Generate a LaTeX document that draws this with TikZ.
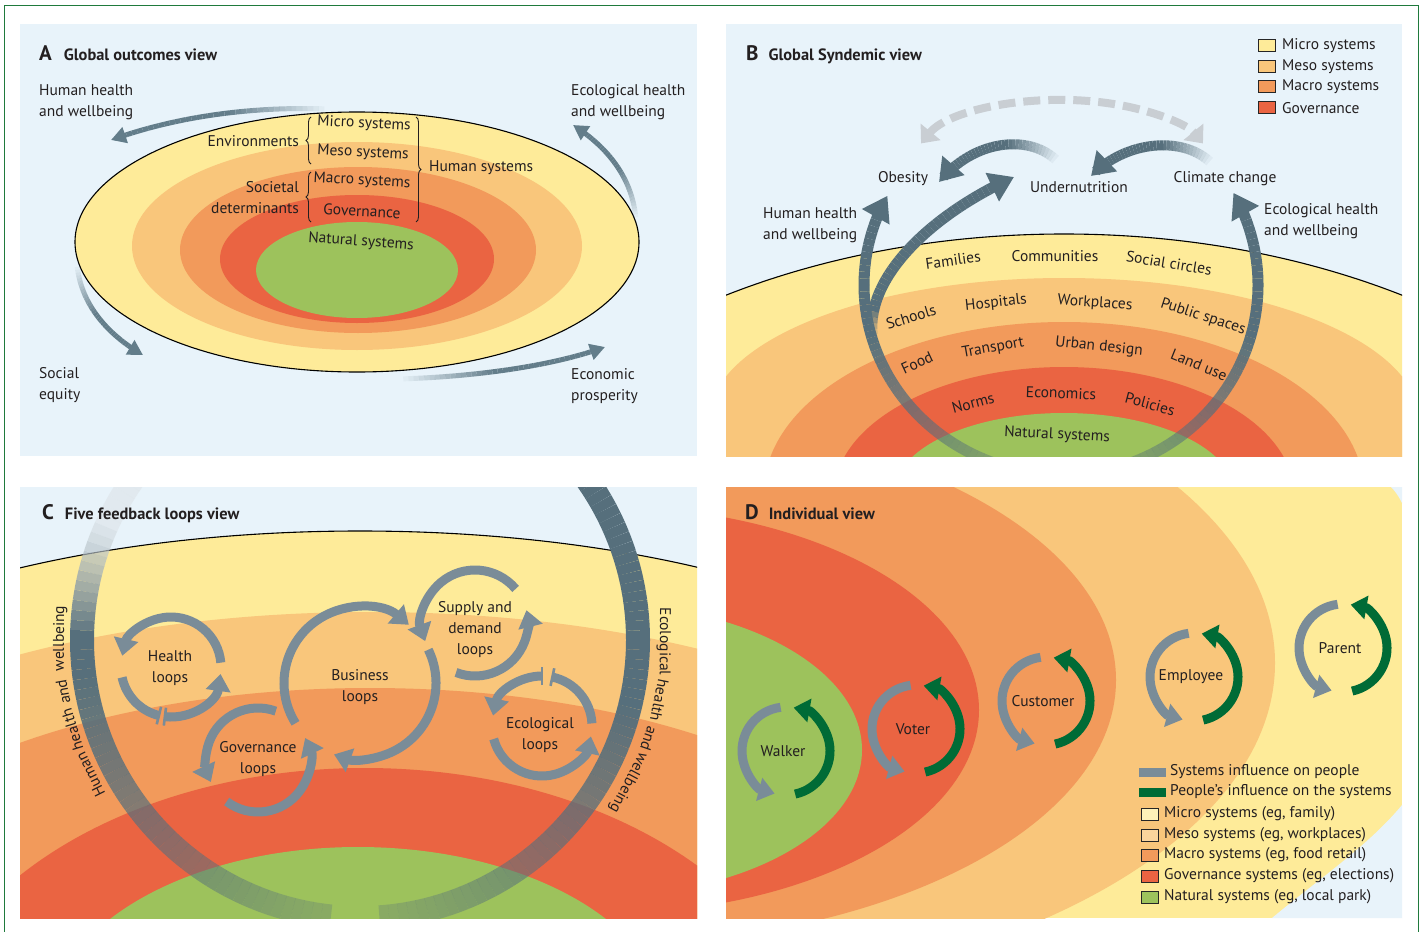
\documentclass[tikz,border=0pt]{standalone}
\usepackage{fontspec}
\setmainfont{PT Sans}
\usetikzlibrary{arrows.meta,decorations.pathreplacing,decorations.markings}
\definecolor{bgblue}{HTML}{E8F3FA}
\definecolor{micro}{HTML}{FEEB99}
\definecolor{meso}{HTML}{F9C67B}
\definecolor{macro}{HTML}{F29A5B}
\definecolor{gov}{HTML}{EA6442}
\definecolor{natural}{HTML}{9DC25C}
\definecolor{bandcol}{HTML}{566F7C}
\definecolor{bandlight}{HTML}{DCE2E6}
\definecolor{loopcol}{HTML}{7A8C98}
\definecolor{acol}{HTML}{637D8A}
\definecolor{dgreen}{HTML}{006B36}
\definecolor{framegreen}{HTML}{1F7A3C}
\definecolor{dashgray}{HTML}{C9CED3}
\definecolor{txt}{HTML}{231F20}
% faded Bezier: #1 start #2 c1 #3 c2 #4 end #5 line style #6 arrow #7 fade length (segments)
\newcommand\fadebezier[7]{%
  \path[decorate,decoration={markings,mark=between positions 0 and 1 step 0.025 with {\coordinate (fq\pgfkeysvalueof{/pgf/decoration/mark info/sequence number});}}] #1 .. controls #2 and #3 .. #4;
  \foreach \i in {1,...,38}{%
    \pgfmathsetmacro\fbop{min(1,(\i-1)/#7)}%
    \pgfmathtruncatemacro\fbj{\i+1}%
    \draw[#5,draw opacity=\fbop] (fq\i) -- (fq\fbj);}%
  \draw[#5,#6] (fq39) -- #4;%
}
\begin{document}
\begin{tikzpicture}[x=1pt,y=-1pt,
  every node/.style={inner sep=0pt,text=txt,font=\fontsize{15.5}{21}\selectfont},
  lbl/.style={align=left},
  ttl/.style={anchor=base west,font=\fontsize{16.4}{18}\selectfont\bfseries},
  lp/.style={line width=9pt,draw=loopcol},
  lph/.style={lp,-{Triangle[length=17pt,width=24pt]}},
  lbar/.style={line width=2.6pt,draw=loopcol},
  dg/.style={line width=9pt,draw=loopcol,-{Triangle[length=16pt,width=23pt]}},
  dgr/.style={line width=9pt,draw=dgreen,-{Triangle[length=16pt,width=23pt]}},
  legsq/.style={draw=black!85,line width=0.9pt,minimum width=17pt,minimum height=12pt},
  brc/.style={decorate,decoration={brace,amplitude=5pt},line width=0.9pt,draw=txt}
]
\useasboundingbox (0,0) rectangle (1423,931);
\fill[white] (0,0) rectangle (1423,931);
\draw[framegreen,line width=1.3pt] (4.5,940) -- (4.5,5.5) -- (1418.5,5.5) -- (1418.5,940);

%================ PANEL A =================
\begin{scope}
  \clip (20,24) rectangle (697,456);
  \fill[bgblue] (20,24) rectangle (697,456);
  \filldraw[fill=micro,draw=black,line width=1.1pt] (357,242) ellipse [x radius=282,y radius=130];
  \fill[meso] (357,246) ellipse [x radius=225,y radius=104];
  \fill[macro] (358,250) ellipse [x radius=178,y radius=83];
  \fill[gov] (357,259) ellipse [x radius=137,y radius=64];
  \fill[natural] (357,270) ellipse [x radius=101,y radius=48];
  \fadebezier{(330,109)}{(250,106)}{(175,117)}{(111,140)}{line width=5pt,draw=acol}{-{Triangle[length=15pt,width=16pt]}}{18}
  \fadebezier{(636,220)}{(633,182)}{(612,150)}{(573,125)}{line width=5pt,draw=acol}{-{Triangle[length=15pt,width=16pt]}}{18}
  \fadebezier{(77,264)}{(80,300)}{(103,332)}{(143,355)}{line width=5pt,draw=acol}{-{Triangle[length=15pt,width=16pt]}}{18}
  \fadebezier{(398,379)}{(470,377)}{(550,367)}{(605,347)}{line width=5pt,draw=acol}{-{Triangle[length=15pt,width=16pt]}}{18}
\end{scope}
\node[ttl] (a-title) at (39,61) {{\fontsize{21}{21}\selectfont A}\hspace{12pt}Global outcomes view};
\node[lbl,anchor=west] (a-hh) at (39,102) {Human health\\and wellbeing};
\node[lbl,anchor=west] (a-eh) at (571,102) {Ecological health\\and wellbeing};
\node[lbl,anchor=west] (a-se) at (39,385) {Social\\equity};
\node[lbl,anchor=west] (a-ep) at (571,386) {Economic\\prosperity};
\node[rotate=-3] (a-micro) at (364,124) {Micro systems};
\node[rotate=-3] (a-meso) at (363,153) {Meso systems};
\node[rotate=-3] (a-macro) at (362,181) {Macro systems};
\node[rotate=-3] (a-gov) at (362,211) {Governance};
\node[rotate=-4] (a-nat) at (361,242) {Natural systems};
\node[anchor=east] (a-env) at (299,141) {Environments};
\node[anchor=east,align=right] (a-soc) at (299,198) {Societal\\determinants};
\node[anchor=west] (a-hum) at (429,168) {Human systems};
\draw[brc] (311,164) -- (311,117);
\draw[brc] (311,222) -- (311,172);
\draw[brc] (416,117) -- (416,222);

%================ PANEL B =================
\begin{scope}
  \clip (726,24) rectangle (1402,456);
  \fill[bgblue] (726,24) rectangle (1402,456);
  \filldraw[fill=micro,draw=black,line width=1.1pt] (1064,654) ellipse [x radius=650,y radius=420];
  \fill[meso] (1064,420) ellipse [x radius=355,y radius=142];
  \fill[macro] (1064,492) ellipse [x radius=300,y radius=170];
  \fill[gov] (1064,495) ellipse [x radius=230,y radius=128];
  \fill[natural] (1064,493) ellipse [x radius=170,y radius=80];
  % big loop arrows
  \foreach \a in {108,110,...,198}{%
    \pgfmathsetmacro\bop{max(0.35,min(1,0.35+0.65*(\a-108)/56))}%
    \draw[line width=11pt,draw=bandcol,draw opacity=\bop] (1064,285) ++(\a:200 and 190) arc[start angle=\a,end angle=\a+2,x radius=200,y radius=190];}
  \draw[line width=11pt,draw=bandcol,-{Triangle[length=24pt,width=30pt]}] (1064,285) ++(200:200 and 190) arc[start angle=200,end angle=208,x radius=200,y radius=190];
  \foreach \a in {72,70,...,-18}{%
    \pgfmathsetmacro\bop{max(0.35,min(1,0.35+0.65*(72-\a)/56))}%
    \draw[line width=11pt,draw=bandcol,draw opacity=\bop] (1062,285) ++(\a:196 and 190) arc[start angle=\a,end angle=\a-2,x radius=196,y radius=190];}
  \draw[line width=11pt,draw=bandcol,-{Triangle[length=24pt,width=30pt]}] (1062,285) ++(-20:196 and 190) arc[start angle=-20,end angle=-29,x radius=196,y radius=190];
  \fadebezier{(873,340)}{(862,280)}{(930,215)}{(1014,177)}{line width=11pt,draw=bandcol}{-{Triangle[length=24pt,width=30pt]}}{5}
  % top arrows
  \fadebezier{(1058,162)}{(1032,134)}{(975,138)}{(939,182)}{line width=10pt,draw=bandcol}{-{Triangle[length=22pt,width=28pt]}}{16}
  \fadebezier{(1212,164)}{(1186,136)}{(1127,139)}{(1091,176)}{line width=10pt,draw=bandcol}{-{Triangle[length=22pt,width=28pt]}}{16}
  \draw[draw=dashgray,line width=8pt,dash pattern=on 17pt off 8pt,{Triangle[length=15pt,width=25pt]}-{Triangle[length=15pt,width=25pt]}] (1062,166) ++(200:150 and 66) arc[start angle=200,end angle=340,x radius=150,y radius=66];
\end{scope}
\node[ttl] (b-title) at (746,61) {{\fontsize{21}{21}\selectfont B}\hspace{10pt}Global Syndemic view};
\node[legsq,fill=micro] (bl1) at (1266.5,45) {};
\node[legsq,fill=meso] (bl2) at (1266.5,66) {};
\node[legsq,fill=macro] (bl3) at (1266.5,86) {};
\node[legsq,fill=gov] (bl4) at (1266.5,107) {};
\node[anchor=west] (bt1) at (1282,46) {Micro systems};
\node[anchor=west] (bt2) at (1282,67) {Meso systems};
\node[anchor=west] (bt3) at (1282,87) {Macro systems};
\node[anchor=west] (bt4) at (1282,108) {Governance};
\node (b-obe) at (903,179) {Obesity};
\node (b-und) at (1079,187) {Undernutrition};
\node (b-cli) at (1225,179) {Climate change};
\node[lbl,anchor=west] (b-hh) at (763,225) {Human health\\and wellbeing};
\node[lbl,anchor=west] (b-eh) at (1264,221) {Ecological health\\and wellbeing};
\node[rotate=8] (b-fam) at (953,260) {Families};
\node (b-com) at (1055,256) {Communities};
\node[rotate=-9] (b-soc) at (1169,263) {Social circles};
\node[rotate=17] (b-sch) at (911,317) {Schools};
\node[rotate=6] (b-hos) at (996,303) {Hospitals};
\node[rotate=-4] (b-wor) at (1095,303) {Workplaces};
\node[rotate=-18] (b-pub) at (1203,317) {Public spaces};
\node[rotate=25] (b-foo) at (917,363) {Food};
\node[rotate=10] (b-tra) at (993,348) {Transport};
\node[rotate=-6] (b-urb) at (1099,347) {Urban design};
\node[rotate=-22] (b-lan) at (1199,365) {Land use};
\node[rotate=15] (b-nor) at (973,403) {Norms};
\node[rotate=-2] (b-eco) at (1061,393) {Economics};
\node[rotate=-15] (b-pol) at (1150,404) {Policies};
\node[rotate=-3] (b-nat) at (1057,435) {Natural systems};

%================ PANEL C =================
\begin{scope}
  \clip (20,487) rectangle (697,918);
  \fill[bgblue] (20,487) rectangle (697,918);
  \filldraw[fill=micro,draw=black,line width=1.1pt] (360,781) ellipse [x radius=650,y radius=250];
  \fill[meso] (370,882) ellipse [x radius=650,y radius=270];
  \fill[macro] (370,938) ellipse [x radius=560,y radius=250];
  \fill[gov] (365,1068) ellipse [x radius=450,y radius=300];
  \fill[natural] (358,1027) ellipse [x radius=310,y radius=180];
  \foreach \a in {240,238,...,98}{%
    \pgfmathtruncatemacro\mixp{100*max(0,min(1,(206-\a)/24))}%
    \pgfmathsetmacro\bop{(\a>180) ? (0.55+0.45*max(0,min(1,(206-\a)/24))) : (max(0.28,min(1,0.28+0.72*(\a-100)/75)))}%
    \draw[line width=24pt,draw=bandcol!\mixp!bandlight,draw opacity=\bop] (360,640) ++(\a:278) arc[start angle=\a,end angle=\a-2,radius=278];}
  \foreach \a in {-64,-62,...,84}{%
    \pgfmathsetmacro\bop{max(0.28,min(1,1-0.72*(\a-12)/70))}%
    \draw[line width=24pt,draw=bandcol,draw opacity=\bop] (360,640) ++(\a:278) arc[start angle=\a,end angle=\a+2,radius=278];}
\end{scope}
% curved labels, word by word along the band
\foreach \w/\t [count=\k] in {Human/153.5,health/162.7,and/170.1,wellbeing/180.3}{%
  \node[anchor=base,rotate=270-\t] (c-hw\k) at ({360+296*cos(\t)},{640+296*sin(\t)}) {\w};}
\foreach \w/\t [count=\k] in {Ecological/0.3,health/11.4,and/18.8,wellbeing/28.0}{%
  \node[anchor=base,rotate=270-\t] (c-ew\k) at ({360+300*cos(\t)},{640+300*sin(\t)}) {\w};}
% Health loops
\draw[lph] (171,667) ++(-5:50) arc[start angle=-5,end angle=-167,radius=50];
\draw[lp] (171,667) ++(168:50) arc[start angle=168,end angle=104,radius=50];
\draw[lbar] (171,667) ++(104:41) -- ++(104:18);
\draw[lbar] (171,667) ++(97:41) -- ++(97:18);
\draw[lph] (171,667) ++(97:50) arc[start angle=97,end angle=8,radius=50];
% Business loops
\draw[lph] (360,683) ++(148:76) arc[start angle=148,end angle=310,radius=76];
\draw[lph] (360,683) ++(-26:76) arc[start angle=-26,end angle=110,radius=76];
% Governance loops
\draw[lph] (258,760) ++(-70:52) arc[start angle=-70,end angle=-205,radius=52];
\draw[lph] (258,760) ++(127:52) arc[start angle=127,end angle=-25,radius=52];
% Supply and demand loops
\draw[lph] (475,623) ++(-40:53) arc[start angle=-40,end angle=-200,radius=53];
\draw[lph] (475,623) ++(111:53) arc[start angle=111,end angle=-14,radius=53];
% Ecological loops
\draw[lp] (542,726) ++(-3:50) arc[start angle=-3,end angle=-78,radius=50];
\draw[lbar] (542,726) ++(-78:41) -- ++(-78:18);
\draw[lbar] (542,726) ++(-90:41) -- ++(-90:18);
\draw[lph] (542,726) ++(-90:50) arc[start angle=-90,end angle=-168,radius=50];
\draw[lph] (542,726) ++(165:50) arc[start angle=165,end angle=12,radius=50];
\node[ttl] (c-title) at (42,519) {{\fontsize{21}{21}\selectfont C}\hspace{11pt}Five feedback loops view};
\node[align=center] (c-hl) at (170,668) {Health\\loops};
\node[align=center] (c-bl) at (360,687) {Business\\loops};
\node[align=center] (c-gl) at (258,759) {Governance\\loops};
\node[align=center] (c-sl) at (475,630) {Supply and\\demand\\loops};
\node[align=center] (c-el) at (540,735) {Ecological\\loops};

%================ PANEL D =================
\begin{scope}
  \clip (726,487) rectangle (1402,918);
  \fill[micro] (726,487) rectangle (1402,918);
  \fill[bgblue] (1272,918) .. controls (1320,878) and (1368,846) .. (1402,805) -- (1402,918) -- cycle;
  \fill[bgblue] (1391,487) .. controls (1396,492) and (1399,497) .. (1402,503) -- (1402,487) -- cycle;
  \fill[meso] (600,663) ellipse [x radius=675,y radius=340];
  \fill[macro] (600,680) ellipse [x radius=516,y radius=265];
  \fill[gov] (600,710) ellipse [x radius=379,y radius=204];
  \fill[natural] (600,750) ellipse [x radius=262,y radius=146];
\end{scope}
\node[ttl] (d-title) at (745,519) {{\fontsize{21}{21}\selectfont D}\hspace{10pt}Individual view};
\foreach \cx/\cy/\nm/\lb in {786/751/walker/Walker,916/729/voter/Voter,1046/701/customer/Customer,1194/677/employee/Employee,1343/648/parent/Parent}{%
  \draw[dg] (\cx,\cy) ++(-97:44) arc[start angle=-97,end angle=-255,radius=44];
  \draw[dgr] (\cx,\cy) ++(78:44) arc[start angle=78,end angle=-80,radius=44];
  \node (d-\nm) at (\cx-3,\cy) {\lb};
}
\fill[loopcol] (1139,768) rectangle (1166,777);
\fill[dgreen] (1139,788) rectangle (1166,797);
\node[anchor=west] (dl1) at (1170,772) {Systems influence on people};
\node[anchor=west] (dl2) at (1170,792) {People's influence on the systems};
\node[legsq,fill=micro!70!white] (dq1) at (1150,814) {};
\node[legsq,fill=meso!75!white] (dq2) at (1150,835) {};
\node[legsq,fill=macro] (dq3) at (1150,855) {};
\node[legsq,fill=gov] (dq4) at (1150,876) {};
\node[legsq,fill=natural] (dq5) at (1150,897) {};
\node[anchor=west] (dt1) at (1164,814) {Micro systems (eg, family)};
\node[anchor=west] (dt2) at (1164,835) {Meso systems (eg, workplaces)};
\node[anchor=west] (dt3) at (1164,855) {Macro systems (eg, food retail)};
\node[anchor=west] (dt4) at (1164,876) {Governance systems (eg, elections)};
\node[anchor=west] (dt5) at (1164,897) {Natural systems (eg, local park)};
\end{tikzpicture}
\end{document}
